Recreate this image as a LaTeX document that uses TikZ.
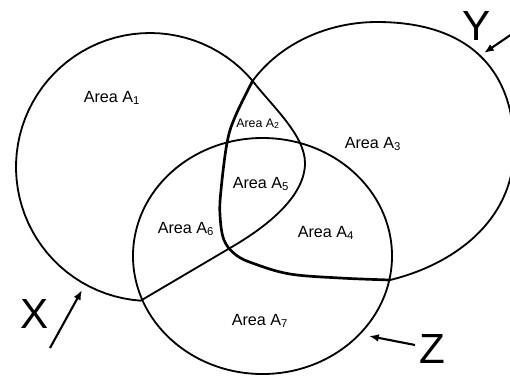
\documentclass[tikz,border=0pt]{standalone}
\usepackage{fontspec}
\setmainfont{Liberation Sans}
\usetikzlibrary{arrows.meta}
\tikzset{
  venn/.style={line width=1.3pt},
  rim/.style={line width=1.9pt},
  area/.style={anchor=base, inner sep=0pt, font=\fontsize{11.5}{13}\selectfont},
  smallarea/.style={area, font=\fontsize{8.8}{10}\selectfont},
  setname/.style={anchor=base, inner sep=0pt, font=\fontsize{30}{32}\selectfont},
  pointer/.style={-{Latex[length=7pt,width=5.5pt]}, line width=1.5pt}
}

\begin{document}
\begin{tikzpicture}[x=0.025cm, y=-0.025cm]
  \useasboundingbox (0,0) rectangle (510,376);
  \clip (0,0) rectangle (510,376);
  % set Z
  \draw[venn] (262.5,256) ellipse [x radius=129.5, y radius=118];
  % set X, pushed out on its right side
  \draw[venn] (230,248) .. controls (270,225) and (305,195) .. (305,163)
    .. controls (305,135) and (271,105) .. (252.6,80.9)
    -- plot[domain=40:266, samples=60] ({150+134*cos(\x)}, {167-134*sin(\x)}) -- cycle;
  % set Y, outer arc and the heavy inner edge
  \draw[venn] (252.6,80.9) .. controls (281,42.5) and (329,22) .. (377,22)
    .. controls (467,22) and (514,68) .. (514,148)
    .. controls (514,222) and (452,265) .. (390,280);
  \draw[rim] plot[smooth, tension=0.6] coordinates {(252.6,80.9) (235,117) (227,143)
    (221,190) (220,215) (224,240) (236,255) (255,264) (290,274) (340,278) (390,280)};
  % areas
  \node[area] (a1) at (112,102) {Area A\textsubscript{1}};
  \node[smallarea] (a2) at (258,127) {Area A\textsubscript{2}};
  \node[area] (a3) at (373,148) {Area A\textsubscript{3}};
  \node[area] (a4) at (326,237) {Area A\textsubscript{4}};
  \node[area] (a5) at (261,188) {Area A\textsubscript{5}};
  \node[area] (a6) at (186,233) {Area A\textsubscript{6}};
  \node[area] (a7) at (260,325) {Area A\textsubscript{7}};
  % set names and pointers
  \node[setname] (xname) at (35,328) {X};
  \node[setname] (yname) at (477,40) {Y};
  \node[setname] (zname) at (432,363) {Z};
  \coordinate (xtail) at (50,348);
  \coordinate (xtip) at (82,290);
  \coordinate (ytail) at (512,34);
  \coordinate (ytip) at (484,53);
  \coordinate (ztail) at (415,345);
  \coordinate (ztip) at (369,336);
  \draw[pointer] (xtail) -- (xtip);
  \draw[pointer] (ytail) -- (ytip);
  \draw[pointer] (ztail) -- (ztip);
\end{tikzpicture}
\end{document}
